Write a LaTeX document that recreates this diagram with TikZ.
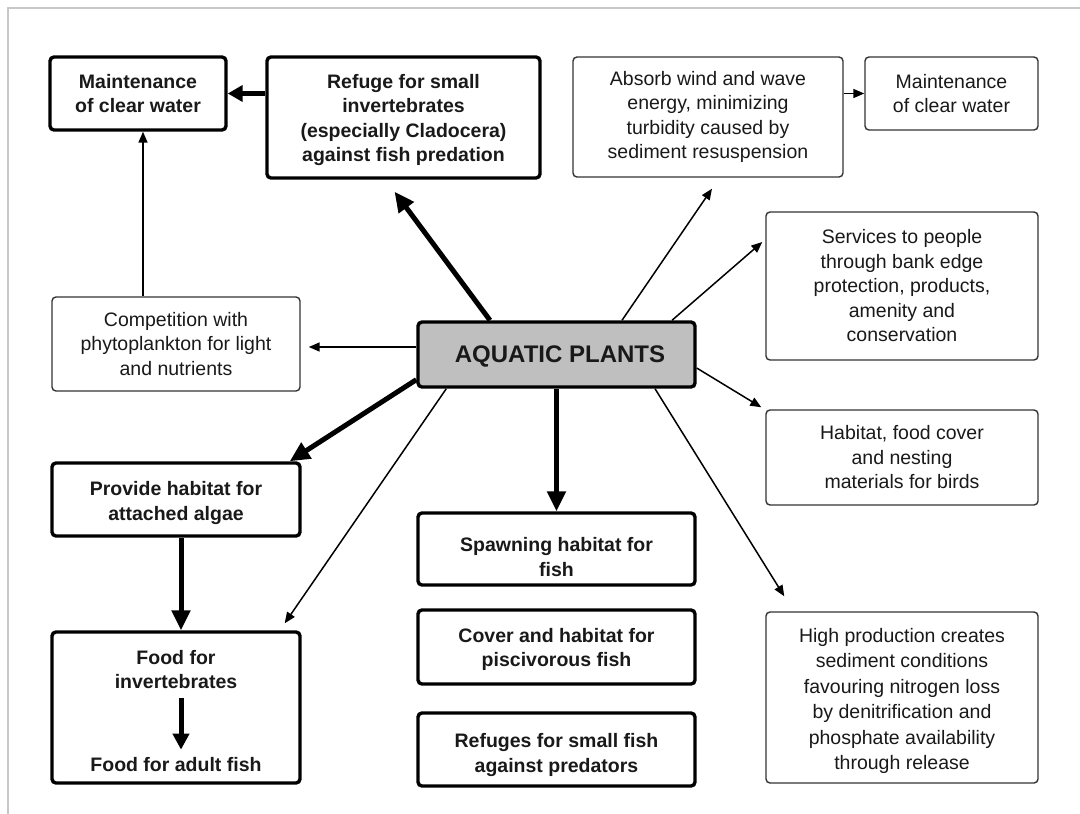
\documentclass[tikz,border=0pt]{standalone}
\usepackage{fontspec}
\setmainfont{Liberation Sans}
\usetikzlibrary{arrows.meta,calc}
\begin{document}
\begin{tikzpicture}[x=1pt,y=-1pt,
  box/.style={rounded corners=4pt, align=center, inner sep=0pt, text=black!90, font=\fontsize{19.5}{24.5}\selectfont},
  thinbox/.style={box, draw=black!80, line width=1.4pt},
  thickbox/.style={box, draw=black, line width=3.4pt, font=\fontsize{19.5}{24.5}\selectfont\bfseries},
  btext/.style={inner sep=0pt, align=center, text=black!90, font=\fontsize{19.5}{24.5}\selectfont\bfseries},
  thinarrow/.style={draw=black, line width=1.5pt, -{Triangle[length=11pt,width=9pt]}},
  thickarrow/.style={draw=black, line width=5pt, -{Triangle[length=20pt,width=18pt]}},
  frameline/.style={draw=black!22, line width=1.2pt}
]
\useasboundingbox (0,0) rectangle (1080,814);
\fill[white] (0,0) rectangle (1080,814);
\coordinate (fa0) at (8,814);
\coordinate (fb0) at (8,8);
\coordinate (fc0) at (1080,8);
\draw[frameline] (fa0) -- (fb0) -- (fc0);

% boxes
\node[thickbox, minimum width=176pt, minimum height=73pt] (m1) at (138,93.5) {Maintenance\\of clear water};
\node[thickbox, minimum width=273pt, minimum height=121pt] (ref) at (403.5,117.5) {};
\node[btext] (reft) at (403.5,120) {Refuge for small\\invertebrates\\(especially Cladocera)\\against fish predation};
\node[thinbox, minimum width=270pt, minimum height=120pt] (abs) at (708,117) {Absorb wind and wave\\energy, minimizing\\turbidity caused by\\sediment resuspension};
\node[thinbox, minimum width=173pt, minimum height=73pt] (m2) at (951.5,93.5) {Maintenance\\of clear water};
\node[thinbox, minimum width=248pt, minimum height=94pt] (comp) at (176,344) {Competition with\\phytoplankton for light\\and nutrients};
\node[box, draw=black, line width=3.4pt, fill=black!25, minimum width=277pt, minimum height=65pt] (ap) at (556.5,354.5) {};
\node[inner sep=0pt, text=black!90, font=\fontsize{24}{28}\selectfont\bfseries] (apt) at (560,356) {AQUATIC PLANTS};
\node[thinbox, minimum width=272pt, minimum height=148pt] (serv) at (902,286) {Services to people\\through bank edge\\protection, products,\\amenity and\\conservation};
\node[thinbox, minimum width=272pt, minimum height=95pt] (birds) at (902,457.5) {Habitat, food cover\\and nesting\\materials for birds};
\node[thickbox, minimum width=248pt, minimum height=73pt] (prov) at (176,499.5) {};
\node[btext] (provt) at (176,503) {Provide habitat for\\attached algae};
\node[thickbox, minimum width=248pt, minimum height=151pt] (food) at (176,707.5) {};
\node[btext] (fi) at (176,669.5) {Food for\\invertebrates};
\node[btext] (fa) at (176,765) {Food for adult fish};
\node[thickbox, minimum width=277pt, minimum height=72pt] (spawn) at (556.5,549) {};
\node[btext] (spawnt) at (556.5,557) {Spawning habitat for\\fish};
\node[thickbox, minimum width=277pt, minimum height=74pt] (cover) at (556.5,647) {};
\node[btext] (covert) at (556.5,649.5) {Cover and habitat for\\piscivorous fish};
\node[thickbox, minimum width=277pt, minimum height=73pt] (refs) at (556.5,749.5) {};
\node[btext] (refst) at (556.5,755) {Refuges for small fish\\against predators};
\node[thinbox, minimum width=272pt, minimum height=171pt, font=\fontsize{19.5}{25.4}\selectfont] (high) at (902,697.5) {};
\node[inner sep=0pt, align=center, text=black!90, font=\fontsize{19.5}{25.4}\selectfont] (hight) at (902,701) {High production creates\\sediment conditions\\favouring nitrogen loss\\by denitrification and\\phosphate availability\\through release};

% connectors
\draw[thickarrow, -{Triangle[length=15pt,width=16pt]}] (ref.west |- m1.east) -- (m1.east);
\draw[thinarrow] ($(comp.north)+(-33,0)$) -- ($(m1.south)+(5,0)$);
\draw[thinarrow] (abs.east |- m2.west) -- (m2.west);
\draw[thickarrow] ($(ap.north)+(-66.5,0)$) -- ($(ref.south)+(-9,12)$);
\draw[thinarrow] ($(ap.north)+(65.5,0)$) -- ($(abs.south)+(4,11)$);
\draw[thinarrow] ($(ap.north)+(115.5,0)$) -- ($(serv.west)+(-3,-44)$);
\draw[thinarrow] ($(ap.west)+(0,-7.5)$) -- ($(comp.east)+(8,3)$);
\draw[thinarrow] ($(ap.east)+(0,13.5)$) -- ($(birds.north west)+(-4,-2)$);
\draw[thickarrow] ($(ap.south west)+(0,-9)$) -- ($(prov.north east)+(-12,0)$);
\draw[thickarrow] (ap.south) -- (spawn.north);
\draw[thinarrow] ($(ap.south west)+(30,0)$) -- ($(food.north east)+(-17,-7)$);
\draw[thinarrow] ($(ap.south)+(98.5,0)$) -- ($(high.north west)+(19,-15)$);
\draw[thickarrow] ($(prov.south)+(5,0)$) -- ($(food.north)+(5,0)$);
\draw[thickarrow, -{Triangle[length=16pt,width=16pt]}] ($(fi.south)+(5,9)$) -- ($(fa.north)+(5,-8)$);
\end{tikzpicture}
\end{document}
